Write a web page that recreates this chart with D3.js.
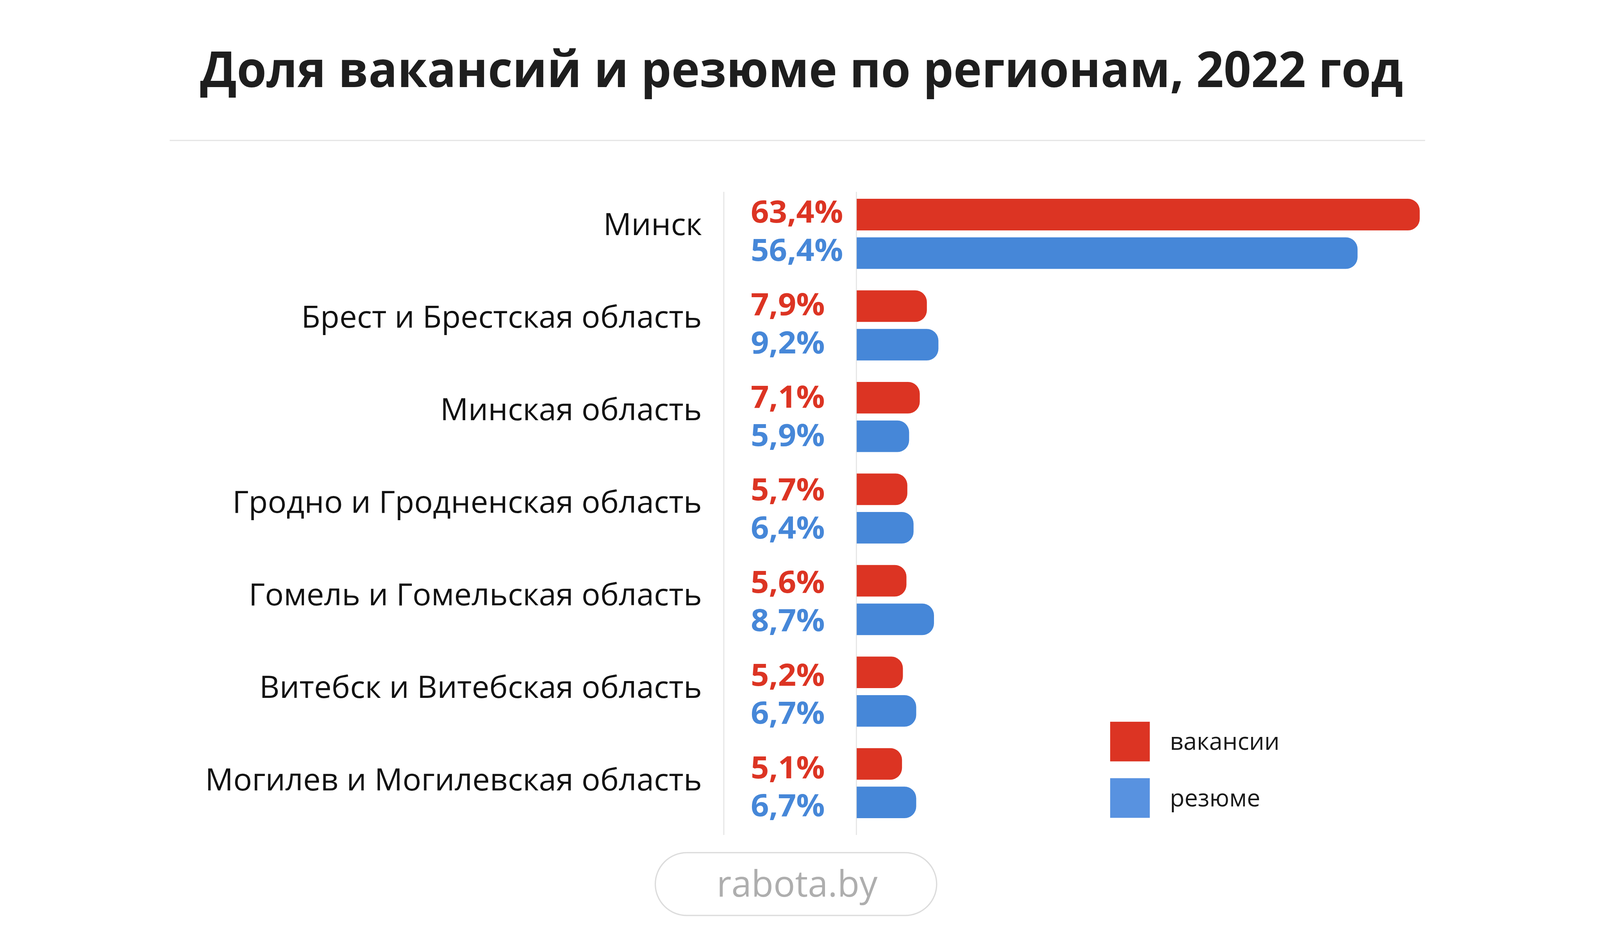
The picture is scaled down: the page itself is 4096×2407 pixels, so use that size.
<!DOCTYPE html>
<html><head><meta charset="utf-8">
<script src="https://cdn.jsdelivr.net/npm/d3@7"></script>
<style>html,body{margin:0;padding:0;background:#fff;overflow:hidden}</style>
</head><body>
<script>
// ---- data ----
const titleText = "Доля вакансий и резюме по регионам, 2022 год";
const regions = ["Минск","Брест и Брестская область","Минская область","Гродно и Гродненская область","Гомель и Гомельская область","Витебск и Витебская область","Могилев и Могилевская область"];
const vacancies = [63.4, 7.9, 7.1, 5.7, 5.6, 5.2, 5.1];
const resumes   = [56.4, 9.2, 5.9, 6.4, 8.7, 6.7, 6.7];
const seriesKeys  = ["vac", "res"];
const seriesNames = ["вакансии", "резюме"];
const sourceText = "rabota.by";

// ---- setup ----
const W = 4096, H = 2407, S = 0.812;
const FONT = "'Open Sans', 'Noto Sans', sans-serif";
const barColor = {vac: "#dc3423", res: "#4687d8"};
const legendColor = {vac: "#dc3423", res: "#5892e0"};
const fmt = v => String(v).replace(".", ",") + "%";

const svg = d3.select("body").append("svg").attr("width", W).attr("height", H);
svg.append("rect").attr("width", W).attr("height", H).attr("fill", "#fff");
const g = svg.append("g").attr("transform", `scale(${S})`);

// stretch a group of texts horizontally with one common factor so the reference item has target width
function fitGroup(sel, refNode, targetW) {
  const k = targetW / refNode.getComputedTextLength();
  sel.each(function() {
    const n = this.getComputedTextLength();
    d3.select(this).attr("textLength", n * k).attr("lengthAdjust", "spacingAndGlyphs");
  });
}

// ---- title ----
const title = g.append("text")
  .attr("x", 2527).attr("y", 275).attr("text-anchor", "middle")
  .attr("font-family", FONT).attr("font-weight", 700).attr("font-size", 157)
  .attr("fill", "#1e1e1e").text(titleText);
fitGroup(title, title.node(), 3792);

g.append("line").attr("x1", 535).attr("x2", 4493).attr("y1", 443).attr("y2", 443)
  .attr("stroke", "#e6e6e6").attr("stroke-width", 4);

// ---- scales ----
const rows = regions.map((r, i) => ({region: r, vac: vacancies[i], res: resumes[i]}));
const x = d3.scaleLinear().domain([0, d3.max(vacancies)]).range([2701, 4476]);
const y = d3.scaleBand().domain(regions).range([627, 627 + 7 * 288.7]).paddingInner(0).paddingOuter(0);
const yIn = d3.scaleBand().domain(seriesKeys).range([0, 221]).paddingInner(0.181).paddingOuter(0);
const yCat = d3.scalePoint().domain(regions).range([742, 742 + 6 * 291.7]);
const yVal = d3.scalePoint().domain(regions).range([702, 702 + 6 * 292]);
const valOffset = {vac: 0, res: 120.5};

// ---- guide lines ----
[2282, x(0) - 1].forEach(xx => {
  g.append("line").attr("x1", xx).attr("x2", xx).attr("y1", 605).attr("y2", 2633)
    .attr("stroke", "#e2e2e2").attr("stroke-width", 3);
});

// ---- bars ----
function barPath(x0, x1, y0, h, r) {
  const w = x1 - x0;
  r = Math.min(r, w, h / 2);
  return `M${x0},${y0}H${x1 - r}A${r},${r} 0 0 1 ${x1},${y0 + r}V${y0 + h - r}A${r},${r} 0 0 1 ${x1 - r},${y0 + h}H${x0}Z`;
}
const bars = [];
rows.forEach(d => seriesKeys.forEach(k => bars.push({region: d.region, key: k, value: d[k]})));

g.append("g").selectAll("path").data(bars).join("path")
  .attr("d", d => barPath(x(0), x(d.value), y(d.region) + yIn(d.key), yIn.bandwidth(), 37))
  .attr("fill", d => barColor[d.key]);

// ---- value labels ----
const vals = g.append("g").selectAll("text").data(bars).join("text")
  .attr("x", 2367).attr("y", d => yVal(d.region) + valOffset[d.key])
  .attr("font-family", FONT).attr("font-weight", 700).attr("font-size", 98)
  .attr("fill", d => barColor[d.key]).text(d => fmt(d.value));
fitGroup(vals, vals.nodes()[0], 291);

// ---- category labels ----
const cats = g.append("g").selectAll("text").data(regions).join("text")
  .attr("x", 2213).attr("y", d => yCat(d)).attr("text-anchor", "end")
  .attr("font-family", FONT).attr("font-weight", 400).attr("font-size", 98)
  .attr("fill", "#111").text(d => d);
fitGroup(cats, cats.nodes()[6], 1566);

// ---- legend ----
const leg = g.append("g");
const legY = d3.scalePoint().domain(seriesKeys).range([2276, 2454]);
leg.selectAll("rect").data(seriesKeys).join("rect")
  .attr("x", 3500).attr("y", d => legY(d)).attr("width", 125).attr("height", 125)
  .attr("fill", d => legendColor[d]);
const legT = leg.selectAll("text").data(seriesKeys).join("text")
  .attr("x", 3688).attr("y", d => legY(d) + 89)
  .attr("font-family", FONT).attr("font-size", 76).attr("fill", "#1a1a1a")
  .text((d, i) => seriesNames[i]);
fitGroup(legT, legT.nodes()[0], 346);

// ---- source pill ----
g.append("rect").attr("x", 2066).attr("y", 2689).attr("width", 887).attr("height", 198)
  .attr("rx", 99).attr("ry", 99).attr("fill", "#fff").attr("stroke", "#dcdcdc").attr("stroke-width", 4);
const src = g.append("text").attr("x", 2513).attr("y", 2827).attr("text-anchor", "middle")
  .attr("font-family", FONT).attr("font-size", 114).attr("fill", "#aeaeae").text(sourceText);
fitGroup(src, src.node(), 507);
</script>
</body></html>
